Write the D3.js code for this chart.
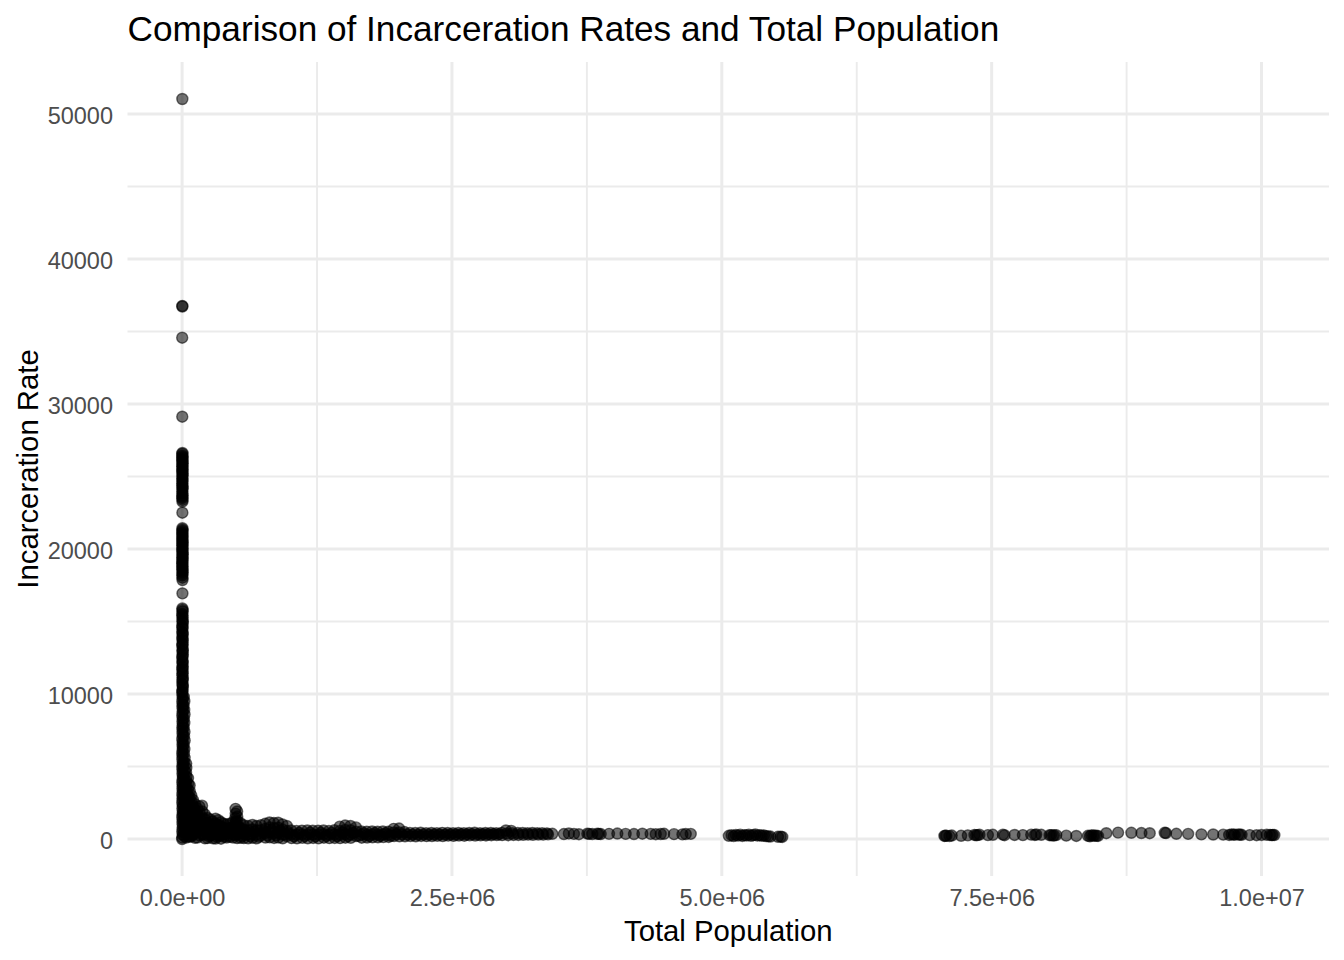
<!DOCTYPE html>
<html>
<head>
<meta charset="utf-8">
<script src="https://cdn.jsdelivr.net/npm/d3@7"></script>
<style>
  html, body { margin: 0; padding: 0; background: #ffffff; }
  svg { display: block; font-family: "Liberation Sans", Arial, Helvetica, sans-serif; }
</style>
</head>
<body>
<svg id="chart" width="1344" height="960"></svg>
<script>
// ---------------- DATA: [total population, incarceration rate] ----------------
const outlierCounties = [[2100,51030],[1800,36760],[2300,36720],[900,34570],[1500,29120],[2600,22500],[3200,16940]];

const spikeUpper = [
  [3000,26620],[2000,26560],[1500,26450],[3400,26360],[4200,26280],[1300,26190],[2200,26100],[3800,26000],
  [5000,25900],[2600,25800],[1200,25700],[4400,25590],[3600,25480],[1700,25390],[2800,25300],[3900,25200],
  [4800,25100],[2300,24970],[1900,24850],[4100,24750],[3300,24650],[1600,24520],[2500,24400],[3700,24300],
  [4500,24200],[2900,24080],[1700,23950],[3500,23820],[3900,23700],[1800,23600],[2300,23500],[4300,23380],[3100,23260],
  [2700,21430],[3300,21340],[4100,21250],[2200,21150],[1600,21050],[4000,20950],[3500,20850],[1900,20740],
  [2400,20640],[3600,20540],[4600,20450],[2700,20350],[1800,20250],[4200,20140],[3800,20030],[1500,19940],
  [2900,19850],[4300,19740],[5200,19640],[3100,19530],[2100,19420],[3900,19320],[4400,19230],[1700,19120],
  [1400,19020],[3000,18910],[3700,18800],[2200,18700],[2600,18600],[4100,18490],[4900,18380],[2800,18270],
  [2000,18170],[3600,18020],[3400,17860]
];

const spikeMiddle = [
  [2400,15900],[5600,15700],[1300,15520],[4700,15300],[3000,15110],[6200,14900],[2000,14700],[4300,14520],
  [1100,14300],[5400,14100],[2700,13920],[6800,13700],[3600,13500],[1900,13310],[5100,13100],[2900,12900],
  [7200,12720],[1500,12500],[4400,12300],[3300,12110],[6000,11900],[2200,11700],[5300,11520],[1700,11300],
  [7600,11100],[3800,10920],[2500,10700],[6600,10500],[4000,10300],[1400,10100],
  [3500,15800],[2600,15410],[4900,15000],[3200,14610],[5800,14200],[2300,13810],[4100,13400],[6400,13000],
  [3000,12610],[5000,12200],[2600,11800],[4600,11410],[3400,11000],[5900,10600],[2800,10200]
];

const spikeLower = [
  [3100,9900],[5800,9700],[1800,9500],[4600,9300],[2600,9100],[7000,8900],[3900,8700],[1300,8500],
  [5500,8300],[2800,8100],[6400,7900],[2100,7700],[4800,7500],[3400,7300],[7400,7100],[1600,6900],
  [5200,6700],[2900,6500],[6100,6300],[3700,6100],[1200,5900],[4500,5700],[2300,5500],[6700,5300],
  [3500,5100],[1900,4900],[5000,4700],[2700,4500],[7300,4300],[4100,4100],[1500,3900],[5700,3700],
  [3000,3500],[6300,3300],[2000,3100],[4900,2900],[3600,2700],[1100,2500],[5900,2300],[2400,2100],
  [6900,1900],[3800,1700],[1700,1500],[5300,1300],[2900,1100],[7100,900],[4200,700],[1400,500],
  [5600,300],[2200,100],[100,0],
  [16000,9800],[21000,9500],[14500,9200],[19500,8900],[23000,8600],[17000,8300],[20500,8000],[15000,7700],
  [22500,7400],[18000,7100],[24000,6800],[15500,6500],[21500,6200],[17500,5900],[23500,5600],[19000,5300],
  [14000,5000],[22000,4700],[16500,4400],[20000,4100],[24500,3800],[15800,3500],[21800,3200],[18500,2900],
  [23800,2600],[16800,2300],[20800,2000],[14800,1700],[22800,1400],[18800,1100],[25000,800],[17800,500],[21200,200]
];

const smallCounties = [
  [38000,5200],[39000,4900],[37000,4600],[40000,4300],[38500,4000],[39500,3700],[37500,3400],[40500,3100],
  [38000,2800],[39000,2500],[37000,2200],[40000,1900],[38500,1600],[39500,1300],[37500,1000],[40500,700],[38000,400],[39000,100],
  [55000,4200],[56000,3800],[54000,3400],[57000,3000],[55500,2600],[56500,2200],[54500,1800],[57500,1400],[55000,1000],[56000,600],[54000,200],
  [70000,3700],[71000,3300],[69000,2900],[72000,2500],[70500,2100],[71500,1700],[69500,1300],[72500,900],[70000,500],[71000,150],
  [85000,3000],[86000,2600],[84000,2200],[87000,1800],[85500,1400],[86500,1000],[84500,600],[87500,200],
  [100000,2700],[101000,2300],[99000,1900],[102000,1500],[100500,1100],[101500,700],[99500,300],
  [120000,2400],[121000,2000],[119000,1600],[122000,1200],[120500,800],[121500,400],[119500,80],
  [140000,2100],[141000,1700],[139000,1300],[142000,900],[140500,500],[141500,100],
  [160000,2250],[161000,1850],[159000,1450],[162000,1050],[160500,650],[161500,250],
  [185000,2300],[186000,1900],[184000,1500],[187000,1100],[185500,700],[186500,300],
  [210000,1700],[211000,1350],[209000,1000],[212000,650],[210500,300],[211500,40],
  [235000,1450],[236000,1100],[234000,750],[237000,400],[235500,60],
  [260000,1350],[261000,1000],[259000,650],[262000,300],
  [285000,1200],[286000,900],[284000,600],[287000,300],[285500,50],
  [310000,1400],[311000,1050],[309000,700],[312000,350],[310500,30],
  [335000,1300],[336000,950],[334000,600],[337000,250],
  [360000,1150],[361000,850],[359000,550],[362000,250],[360500,20],
  [385000,1050],[386000,750],[384000,450],[387000,150],
  [410000,1000],[411000,700],[409000,400],[412000,100],
  [440000,1050],[441000,750],[439000,450],[442000,150],
  [470000,1150],[471000,800],[469000,450],[472000,100],
  [495000,2080],[496000,1750],[494000,1450],[497000,1150],[495500,850],[496500,550],[494500,250],
  [510000,1900],[511000,1550],[509000,1250],[512000,950],[510500,650],[511500,350],[509500,60],
  [540000,1100],[541000,750],[539000,400],[542000,80],
  [570000,950],[571000,650],[569000,350],[572000,60],
  [610000,900],[611000,600],[609000,300],[612000,50],
  [650000,970],[651000,650],[649000,350],[652000,80],
  [690000,900],[691000,600],[689000,300],[692000,40],
  [730000,950],[731000,600],[729000,250],
  [770000,1050],[771000,700],[769000,400],[772000,100],
  [810000,1140],[811000,800],[809000,450],[812000,120],
  [850000,1100],[851000,750],[849000,400],[852000,70],
  [890000,1120],[891000,780],[889000,430],[892000,100],
  [930000,1000],[931000,650],[929000,300],[932000,50],
  [970000,900],[971000,550],[969000,200],
  [222000,500],[248000,200],[272000,850],[298000,450],[322000,150],[348000,700],[372000,300],[398000,550],
  [425000,250],[455000,600],[482000,300],[525000,500],[555000,200],[590000,500],[630000,200],[670000,500],
  [710000,150],[750000,450],[790000,250],[830000,600],[870000,250],[910000,550],[950000,300],[985000,400]
];

const midCounties = [
  [1010000,590],[1012000,320],[1014000,60],[1060000,560],[1062000,290],[1064000,40],
  [1110000,580],[1112000,320],[1114000,80],[1160000,590],[1162000,300],[1164000,50],
  [1210000,570],[1212000,310],[1214000,70],[1260000,580],[1262000,300],[1264000,40],
  [1310000,590],[1312000,330],[1314000,90],[1360000,560],[1362000,290],[1364000,60],
  [1410000,600],[1412000,320],[1414000,70],
  [1460000,850],[1461000,560],[1462000,280],[1463000,60],
  [1510000,930],[1511000,620],[1512000,330],[1513000,90],
  [1560000,900],[1561000,600],[1562000,300],[1563000,80],
  [1610000,800],[1611000,500],[1612000,200],
  [1660000,520],[1662000,300],[1664000,90],[1710000,510],[1712000,290],[1714000,100],
  [1760000,520],[1762000,320],[1764000,110],[1810000,500],[1812000,300],[1814000,120],
  [1860000,520],[1862000,310],[1864000,130],[1910000,500],[1912000,300],[1914000,140],
  [1960000,700],[1962000,450],[1964000,200],[2010000,720],[2012000,460],[2014000,180],
  [1035000,180],[1085000,420],[1135000,200],[1185000,440],[1235000,190],[1285000,430],[1335000,210],
  [1385000,420],[1435000,200],[1485000,450],[1535000,200],[1585000,430],[1635000,220],[1685000,400],
  [1735000,200],[1785000,410],[1835000,210],[1885000,400],[1935000,220],[1985000,330],[2035000,320],
  [2060000,480],[2065000,190],[2110000,420],[2115000,200],[2160000,410],[2165000,185],
  [2210000,430],[2215000,210],[2260000,400],[2265000,195],[2310000,415],[2315000,205],
  [2360000,405],[2365000,220],[2410000,425],[2415000,200],[2460000,410],[2465000,230],
  [2510000,400],[2515000,215],[2560000,420],[2565000,240],[2610000,405],[2615000,225],
  [2660000,415],[2665000,250],[2710000,430],[2715000,235],[2760000,400],[2765000,255],
  [2810000,410],[2815000,245],[2860000,420],[2865000,260],[2910000,405],[2915000,270],
  [2960000,425],[2965000,265],
  [2085000,310],[2135000,300],[2185000,295],[2235000,320],[2285000,300],[2335000,310],
  [2385000,315],[2435000,305],[2485000,320],[2535000,310],[2585000,330],[2635000,315],
  [2685000,335],[2735000,320],[2785000,330],[2835000,325],[2885000,340],[2935000,330],
  [3000000,590],[3010000,380],[3020000,260],[3050000,560],[3060000,400],[3070000,280],
  [3110000,410],[3115000,280],[3155000,420],[3160000,290],[3200000,400],[3205000,300],
  [3245000,410],[3250000,290],[3290000,395],[3300000,310],[3335000,400],[3345000,300],
  [3380000,390],[3390000,320]
];

const largeCounties = [
  [3430000,360],[3537000,340],[3583000,380],[3630000,350],[3676000,330],[3754000,370],[3770000,350],
  [3800000,345],[3847000,360],[3860000,350],[3878000,340],[3955000,355],[4032000,375],[4109000,350],
  [4186000,340],[4264000,365],[4341000,350],[4388000,330],[4434000,345],[4465000,360],[4557000,335],
  [4635000,320],[4666000,340],[4712000,350],
  [5065000,220],[5090000,260],[5110000,200],[5130000,280],[5150000,230],[5170000,300],[5190000,210],
  [5210000,270],[5230000,240],[5250000,300],[5270000,220],[5290000,260],[5310000,310],[5330000,230],
  [5350000,270],[5370000,220],[5390000,250],[5410000,200],[5430000,180],[5450000,170],[5520000,150],
  [5545000,160],[5560000,140]
];

const veryLargeCounties = [
  [7062000,210],[7070000,220],[7080000,230],[7109000,200],[7130000,240],[7217000,220],[7279000,250],
  [7340000,280],[7356000,260],[7370000,270],[7387000,300],[7465000,270],[7511000,290],[7604000,300],
  [7619000,260],[7711000,280],[7789000,270],[7866000,300],[7900000,280],[7913000,310],[7959000,290],
  [8036000,260],[8050000,270],[8068000,240],[8080000,250],[8098000,270],[8191000,230],[8284000,210],
  [8392000,220],[8410000,190],[8423000,250],[8440000,240],[8454000,230],[8470000,220],[8485000,210],
  [8562000,400],[8671000,440],[8794000,430],[8887000,410],[8964000,400],[9103000,430],[9115000,410],
  [9211000,360],[9320000,350],[9443000,320],[9552000,310],[9645000,300],[9700000,280],[9722000,320],
  [9740000,300],[9752000,300],[9784000,310],[9800000,300],[9815000,290],[9891000,270],[9954000,260],
  [10000000,280],[10048000,290],[10078000,280],[10095000,270],[10105000,280],[10119000,275]
];

const xTicks = [0, 2500000, 5000000, 7500000, 10000000];
const xTickLabels = ["0.0e+00", "2.5e+06", "5.0e+06", "7.5e+06", "1.0e+07"];
const xMinor = [1250000, 3750000, 6250000, 8750000];
const yTicks = [0, 10000, 20000, 30000, 40000, 50000];
const yTickLabels = ["0", "10000", "20000", "30000", "40000", "50000"];
const yMinor = [5000, 15000, 25000, 35000, 45000];

const titleText = "Comparison of Incarceration Rates and Total Population";
const xTitle = "Total Population";
const yTitle = "Incarceration Rate";

// ---------------- CHART ----------------
const allPoints = [].concat(outlierCounties, spikeUpper, spikeMiddle, spikeLower,
  smallCounties, midCounties, largeCounties, veryLargeCounties);

const svg = d3.select("#chart");
const panel = { left: 127.5, right: 1329, top: 62, bottom: 876 };

function expand(ext) {
  const r = ext[1] - ext[0];
  return [ext[0] - 0.05 * r, ext[1] + 0.05 * r];
}
const x = d3.scaleLinear()
  .domain(expand(d3.extent(allPoints, d => d[0])))
  .range([panel.left, panel.right]);
const y = d3.scaleLinear()
  .domain(expand(d3.extent(allPoints, d => d[1])))
  .range([panel.bottom, panel.top]);

const grid = svg.append("g");
const gridColor = "#EBEBEB";
grid.selectAll("line.ymin").data(yMinor).join("line")
  .attr("x1", panel.left).attr("x2", panel.right)
  .attr("y1", d => y(d)).attr("y2", d => y(d))
  .attr("stroke", gridColor).attr("stroke-width", 1.9);
grid.selectAll("line.xmin").data(xMinor).join("line")
  .attr("y1", panel.top).attr("y2", panel.bottom)
  .attr("x1", d => x(d)).attr("x2", d => x(d))
  .attr("stroke", gridColor).attr("stroke-width", 1.9);
grid.selectAll("line.ymaj").data(yTicks).join("line")
  .attr("x1", panel.left).attr("x2", panel.right)
  .attr("y1", d => y(d)).attr("y2", d => y(d))
  .attr("stroke", gridColor).attr("stroke-width", 3);
grid.selectAll("line.xmaj").data(xTicks).join("line")
  .attr("y1", panel.top).attr("y2", panel.bottom)
  .attr("x1", d => x(d)).attr("x2", d => x(d))
  .attr("stroke", gridColor).attr("stroke-width", 3);

// points
svg.append("g").selectAll("circle").data(allPoints).join("circle")
  .attr("cx", d => x(d[0]))
  .attr("cy", d => y(d[1]))
  .attr("r", 5.5)
  .attr("fill", "#000")
  .attr("fill-opacity", 0.55)
  .attr("stroke", "#000")
  .attr("stroke-opacity", 0.55)
  .attr("stroke-width", 1.4);

// axes
const xAxis = d3.axisBottom(x).tickValues(xTicks)
  .tickFormat((d, i) => xTickLabels[i]).tickSize(0).tickPadding(13.3);
const gx = svg.append("g").attr("transform", `translate(0,${panel.bottom})`).call(xAxis);
gx.select(".domain").remove();
gx.selectAll("text").attr("font-size", 23.5).attr("fill", "#4D4D4D")
  .attr("font-family", "Liberation Sans, Arial, sans-serif");

const yAxis = d3.axisLeft(y).tickValues(yTicks)
  .tickFormat((d, i) => yTickLabels[i]).tickSize(0).tickPadding(14.5);
const gy = svg.append("g").attr("transform", `translate(${panel.left},0)`).call(yAxis);
gy.select(".domain").remove();
gy.selectAll("text").attr("font-size", 23.5).attr("fill", "#4D4D4D").attr("dy", "0.4em")
  .attr("font-family", "Liberation Sans, Arial, sans-serif");

// titles
svg.append("text").attr("x", panel.left).attr("y", 41)
  .attr("font-size", 35.2).attr("fill", "#000").text(titleText);
svg.append("text").attr("x", (panel.left + panel.right) / 2).attr("y", 941)
  .attr("text-anchor", "middle").attr("font-size", 29.3).attr("fill", "#000").text(xTitle);
svg.append("text")
  .attr("transform", `translate(38,${(panel.top + panel.bottom) / 2}) rotate(-90)`)
  .attr("text-anchor", "middle").attr("font-size", 29.3).attr("fill", "#000").text(yTitle);
</script>
</body>
</html>
